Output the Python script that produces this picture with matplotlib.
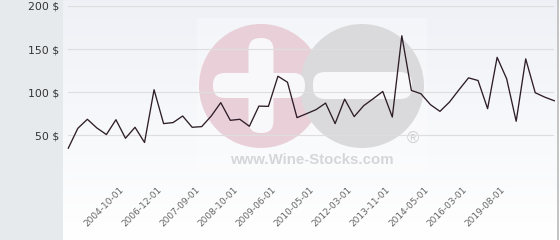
import matplotlib
matplotlib.use("Agg")
import matplotlib.pyplot as plt
from matplotlib.patches import Rectangle, Circle, FancyBboxPatch
import numpy as np

# price history (one point per listing, in $)
prices = [35, 58, 68.5, 58.4, 50.8, 68, 46.5, 59.2, 41.6, 102.8,
          63.5, 64.7, 72.3, 59.2, 60, 72.3, 87.8, 67.3, 68.5, 60.4,
          83.8, 83.5, 118.5, 111.5, 70.4, 75, 79.7, 87.3, 63.5, 91.9,
          71.6, 84.3, 92.4, 100.8, 71.1, 165.5, 102, 98.2, 85.5, 77.7,
          88.5, 102.8, 116.6, 113.5, 80.8, 140.4, 115.5, 66.2, 138.6, 99.3,
          94.2, 90]

# dates shown on the x axis (every 4th point, starting at the 7th)
date_labels = ["2004-10-01", "2006-12-01", "2007-09-01", "2008-10-01",
               "2009-06-01", "2010-05-01", "2012-03-01", "2013-11-01",
               "2014-05-01", "2016-03-01", "2019-08-01"]
first_label = 6
label_step = 4

y_ticks = [0, 50, 100, 150, 200]
y_labels = ["", "50 $", "100 $", "150 $", "200 $"]

W, H = 560, 240
fig = plt.figure(figsize=(W / 100, H / 100), dpi=100)

# background layer in pixel coordinates
bg = fig.add_axes([0, 0, 1, 1], zorder=0)
bg.set_xlim(0, W)
bg.set_ylim(H, 0)
bg.axis("off")

# left panel
bg.add_patch(Rectangle((0, 0), 63, H, color="#e7eaed", lw=0))
# plot area gradient
grad = np.linspace(0, 1, 256).reshape(-1, 1)
top = np.array([0.937, 0.945, 0.965])
bot = np.array([1.0, 1.0, 1.0])
img = top + (bot - top) * grad[..., None]
bg.imshow(img, extent=(63, 557, H, 0), aspect="auto", zorder=0)
# right border
bg.add_patch(Rectangle((557, 0), 1.5, H, color="#c4c4c4", lw=0, zorder=1))
bg.add_patch(Rectangle((558.5, 0), 2, H, color="white", lw=0, zorder=1))

# watermark
bg.add_patch(Rectangle((197, 18), 230, 154, color="white", alpha=0.25, lw=0, zorder=1))
bg.add_patch(Circle((261, 86), 62, color="#e9d0d8", lw=0, zorder=2))
bg.add_patch(Circle((362, 86), 62, color="#dadadc", lw=0, zorder=3))
bar_kw = dict(boxstyle="round,pad=0,rounding_size=12", fc="#f8f8fa", ec="none", zorder=4)
bg.add_patch(FancyBboxPatch((248.5, 38), 25, 95, **bar_kw))
bg.add_patch(FancyBboxPatch((213, 73), 92, 25, **bar_kw))
bg.add_patch(FancyBboxPatch((313, 72), 99, 27, **bar_kw))
bg.text(312, 160, "www.Wine-Stocks.com", ha="center", va="center",
        fontsize=10.8, fontweight="bold", family="Liberation Sans",
        color="#d6d6d8", zorder=5)
bg.text(413, 139, "\u00ae", ha="center", va="center", fontsize=12,
        family="Liberation Sans", color="#d0d0d2", zorder=5)

# chart
ax = fig.add_axes([68.3 / W, (H - 178.3) / H, (554.3 - 68.3) / W, (178.3 - 6) / H], zorder=1)
ax.patch.set_alpha(0)
x = np.arange(len(prices))
ax.plot(x, prices, color="#2e1d28", lw=0.95, zorder=3, clip_on=False)
ax.set_xlim(0, len(prices) - 1)
ax.set_ylim(0, 200)

ax.set_yticks(y_ticks)
ax.set_yticklabels(y_labels, fontsize=7.8, color="#333333")
ax.set_xticks(range(first_label, first_label + label_step * len(date_labels), label_step))
ax.set_xticklabels(date_labels, rotation=45, ha="right", va="top",
                   fontsize=6.5, color="#666666")
ax.tick_params(axis="y", length=0, pad=6.5)
ax.tick_params(axis="x", length=0, pad=5)
ax.grid(axis="y", color="#dedede", lw=0.8)
ax.set_axisbelow(True)
for s in ax.spines.values():
    s.set_visible(False)

fig.savefig("out.png", dpi=100)
